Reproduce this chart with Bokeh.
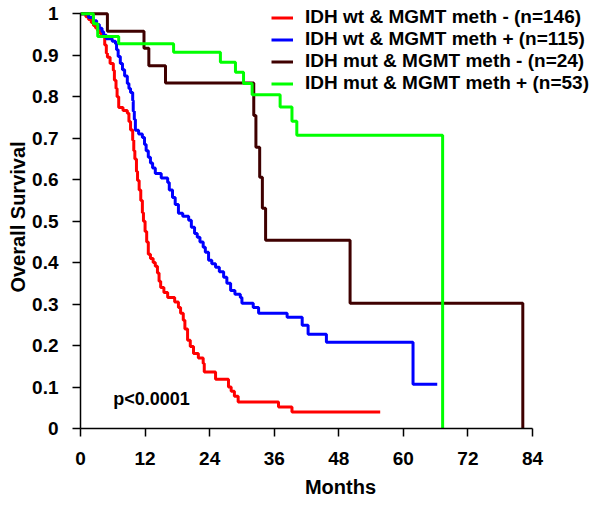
from bokeh.plotting import figure
from bokeh.models import Range1d, FixedTicker, Legend, LegendItem
from bokeh.core.properties import value
from bokeh.embed import file_html
from bokeh.resources import INLINE

# ---- data ----
red_t = [0, 1.0, 1.5, 2.0, 2.4, 2.8, 3.2, 3.7, 4.3, 4.5, 4.8, 5.0, 5.5, 6.1, 6.3, 6.6, 6.8, 7.1,
         7.9, 8.7, 9.0, 9.3, 9.7, 9.9, 10.1, 10.4, 10.6, 10.9, 11.2, 11.5, 11.7, 12.0, 12.3, 12.6,
         13.0, 13.5, 13.9, 14.3, 14.6, 14.9, 15.5, 16.2, 17.5, 18.2, 18.6, 19.1, 19.4, 19.9, 20.4,
         21.0, 21.9, 22.8, 23.0, 25.1, 27.5, 28.0, 28.6, 29.3, 36.8, 39.3, 55.7]
red_s = [1.0, 0.993, 0.986, 0.979, 0.972, 0.966, 0.959, 0.952, 0.945, 0.925, 0.905, 0.895, 0.88,
         0.863, 0.84, 0.82, 0.80, 0.774, 0.767, 0.760, 0.74, 0.72, 0.695, 0.67, 0.65, 0.62, 0.598,
         0.575, 0.55, 0.52, 0.50, 0.475, 0.45, 0.42, 0.41, 0.40, 0.391, 0.375, 0.355, 0.34, 0.328,
         0.316, 0.305, 0.292, 0.278, 0.261, 0.24, 0.213, 0.198, 0.181, 0.17, 0.157, 0.136, 0.119,
         0.10, 0.09, 0.078, 0.064, 0.052, 0.040, 0.040]

blue_t = [0, 1.5, 2.4, 3.0, 3.5, 4.0, 4.3, 4.8, 5.9, 6.5, 6.7, 7.0, 7.4, 7.8, 8.2, 8.7, 9.0, 9.3,
          9.7, 9.8, 10.0, 10.2, 10.8, 11.5, 11.9, 12.2, 12.6, 13.0, 13.4, 13.9, 15.0, 16.2, 16.5,
          17.1, 17.6, 18.2, 19.0, 20.1, 20.6, 21.2, 21.7, 22.2, 22.8, 23.2, 23.8, 24.4, 25.1, 25.8,
          26.6, 27.2, 27.9, 28.7, 29.7, 30.0, 32.1, 33.1, 38.4, 41.2, 42.3, 45.7, 61.8, 66.3]
blue_s = [1.0, 0.991, 0.983, 0.974, 0.965, 0.957, 0.948, 0.94, 0.934, 0.928, 0.913, 0.897, 0.88,
          0.865, 0.85, 0.832, 0.82, 0.81, 0.791, 0.765, 0.745, 0.719, 0.71, 0.702, 0.685, 0.67,
          0.654, 0.64, 0.628, 0.615, 0.604, 0.593, 0.575, 0.557, 0.54, 0.519, 0.512, 0.502, 0.485,
          0.47, 0.461, 0.45, 0.437, 0.425, 0.406, 0.397, 0.389, 0.378, 0.365, 0.35, 0.333, 0.324,
          0.316, 0.302, 0.292, 0.278, 0.268, 0.249, 0.227, 0.208, 0.107, 0.107]

brown_t = [0, 5.0, 11.8, 12.7, 15.8, 32.2, 32.6, 33.3, 33.8, 34.4, 50.1, 82.2]
brown_s = [1.0, 0.958, 0.917, 0.875, 0.833, 0.755, 0.678, 0.606, 0.531, 0.454, 0.302, 0.0]

green_t = [0, 2.4, 3.2, 7.1, 17.3, 26.0, 28.8, 30.3, 31.9, 37.1, 39.3, 40.2, 67.3]
green_s = [1.0, 0.976, 0.945, 0.928, 0.907, 0.883, 0.859, 0.832, 0.805, 0.775, 0.741, 0.707, 0.0]

series_labels = ["IDH wt & MGMT meth - (n=146)", "IDH wt & MGMT meth + (n=115)",
                 "IDH mut & MGMT meth - (n=24)", "IDH mut & MGMT meth + (n=53)"]
series_colors = ["#ff0000", "#0000ff", "#3f0000", "#00ff00"]

x_ticks = [0, 12, 24, 36, 48, 60, 72, 84]
y_ticks = [0, 0.1, 0.2, 0.3, 0.4, 0.5, 0.6, 0.7, 0.8, 0.9, 1]
y_tick_labels = ["0", "0.1", "0.2", "0.3", "0.4", "0.5", "0.6", "0.7", "0.8", "0.9", "1"]
p_text = "p<0.0001"

FONT = "Liberation Sans"

p = figure(frame_width=520, frame_height=423, output_backend="svg", toolbar_location=None,
           x_range=Range1d(0, 96.64), y_range=Range1d(0, 1.02),
           min_border_left=80, min_border_right=5, min_border_top=5, min_border_bottom=74)
p.outline_line_color = None
p.grid.visible = False
p.background_fill_color = "white"

renderers = []
for t, s, c in zip([red_t, blue_t, brown_t, green_t], [red_s, blue_s, brown_s, green_s], series_colors):
    r = p.step(t, s, mode="after", line_color=c, line_width=3)
    renderers.append(r)

p.text(x=[6.1], y=[0.072], text=[p_text], text_font=value(FONT), text_font_style="bold",
       text_font_size="18px", text_align="left", text_baseline="middle", text_color="black")

for ax in (p.xaxis[0], p.yaxis[0]):
    ax.axis_line_color = "black"
    ax.axis_line_width = 1.5
    ax.major_tick_line_color = "black"
    ax.major_tick_line_width = 1.5
    ax.major_tick_out = 8
    ax.major_tick_in = 0
    ax.minor_tick_line_color = None
    ax.major_label_text_font = FONT
    ax.major_label_text_font_style = "bold"
    ax.major_label_text_font_size = "19px"
    ax.major_label_text_color = "black"
    ax.axis_label_text_font = FONT
    ax.axis_label_text_font_style = "bold"
    ax.axis_label_text_font_size = "20px"
    ax.axis_label_text_color = "black"

p.xaxis.ticker = FixedTicker(ticks=x_ticks)
p.xaxis.bounds = (0, 84)
p.xaxis.axis_label = "Months"
p.xaxis.major_label_standoff = 15
p.xaxis.axis_label_standoff = 8

p.yaxis.ticker = FixedTicker(ticks=y_ticks)
p.yaxis.major_label_overrides = {k: v for k, v in zip(y_ticks, y_tick_labels)}
p.yaxis.axis_label = "Overall Survival"
p.yaxis.bounds = (0, 1)
p.yaxis.major_label_standoff = 14
p.yaxis.axis_label_standoff = 0

legend = Legend(items=[LegendItem(label=l, renderers=[r]) for l, r in zip(series_labels, renderers)],
                location=(191, 334), padding=0, margin=0, spacing=0,
                glyph_width=22, glyph_height=21, label_height=21, label_standoff=12,
                border_line_color=None, background_fill_alpha=0,
                label_text_font=FONT, label_text_font_style="bold",
                label_text_font_size="19px", label_text_color="black")
p.add_layout(legend, "center")

open("out.html", "w").write(file_html(p, INLINE))
